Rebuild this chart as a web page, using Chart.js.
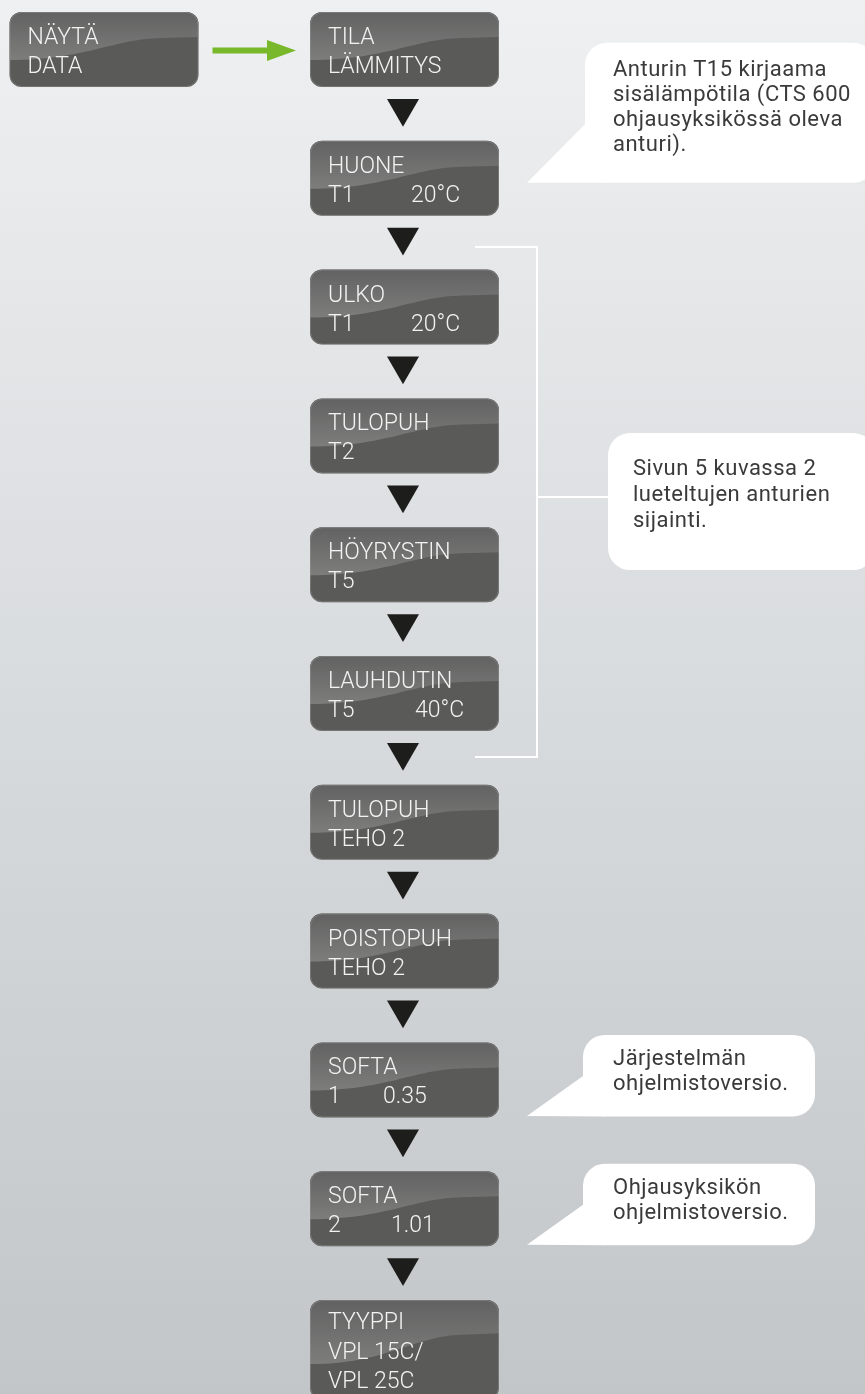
<!DOCTYPE html>
<html><head><meta charset="utf-8">
<script src="https://cdn.jsdelivr.net/npm/chart.js@4.4.1/dist/chart.umd.min.js"></script>
<style>html,body{margin:0;padding:0;background:#e6e8ea;overflow:hidden}canvas{display:block}</style>
</head><body>
<canvas id="c" width="865" height="1394"></canvas>
<script>
// ---- data ----
const stepTitles = ["TILA","HUONE","ULKO","TULOPUH","HÖYRYSTIN","LAUHDUTIN","TULOPUH","POISTOPUH","SOFTA","SOFTA","TYYPPI"];
const stepLine2  = ["LÄMMITYS","T1","T1","T2","T5","T5","TEHO 2","TEHO 2","1","2","VPL 15C/"];
const stepValues = ["","20°C","20°C","","","40°C","","","0.35","1.01",""];
const stepLine3  = ["","","","","","","","","","","VPL 25C"];
const startLabel = ["NÄYTÄ","DATA"];
const noteTexts = [
  ["Anturin T15 kirjaama","sisälämpötila (CTS 600","ohjausyksikössä oleva","anturi)."],
  ["Järjestelmän","ohjelmistoversio."],
  ["Ohjausyksikön","ohjelmistoversio."]
];
const noteSteps = [1, 8, 9];
const bracketText = ["Sivun 5 kuvassa 2","lueteltujen anturien","sijainti."];
const bracketSteps = [2, 5];

// ---- layout / style ----
const W = 865, H = 1394;
const STEP_PX = 128.8, FIRST_CENTER = 49.5;
const yMin = -FIRST_CENTER / STEP_PX, yMax = yMin + H / STEP_PX;
const MAIN_X = 404.5, START_X = 104;
const BOX_W = 189, BOX_H = 75;
const TRI_OFFSET = 58.75 / STEP_PX;
const valueX = [0, 411, 411, 0, 0, 415, 0, 0, 383, 391, 0];
const BOX_FONT = '300 23px Roboto';
const NOTE_FONT = '400 22px Roboto';

function rr(ctx, x, y, w, h, r) {
  ctx.beginPath();
  ctx.moveTo(x + r, y);
  ctx.arcTo(x + w, y, x + w, y + h, r);
  ctx.arcTo(x + w, y + h, x, y + h, r);
  ctx.arcTo(x, y + h, x, y, r);
  ctx.arcTo(x, y, x + w, y, r);
  ctx.closePath();
}

function drawBox(ctx, cx, cy, lines, val, valX) {
  const tall = lines.length > 2;
  const h = tall ? 100 : BOX_H;
  const s = h / BOX_H;
  const x = cx - BOX_W / 2, y = cy - BOX_H / 2;
  ctx.save();
  rr(ctx, x, y, BOX_W, h, 12);
  ctx.fillStyle = '#5a5a58';
  ctx.fill();
  ctx.clip();
  const g = ctx.createLinearGradient(0, y, 0, y + 48 * s);
  g.addColorStop(0, '#626262');
  g.addColorStop(1, '#7d7d7c');
  ctx.beginPath();
  ctx.moveTo(x, y);
  ctx.lineTo(x + BOX_W, y);
  ctx.lineTo(x + BOX_W, y + 25 * s);
  ctx.lineTo(x + BOX_W * 0.8, y + 26 * s);
  ctx.bezierCurveTo(x + BOX_W * 0.55, y + 27 * s, x + BOX_W * 0.4, y + 48 * s, x, y + 48 * s);
  ctx.closePath();
  ctx.fillStyle = g;
  ctx.fill();
  ctx.restore();
  rr(ctx, x + 0.5, y + 0.5, BOX_W - 1, h - 1, 12);
  ctx.strokeStyle = 'rgba(150,150,150,0.45)';
  ctx.lineWidth = 1;
  ctx.stroke();
  ctx.fillStyle = '#f3f3f3';
  ctx.font = BOX_FONT;
  ctx.letterSpacing = '0px';
  ctx.textBaseline = 'alphabetic';
  ctx.textAlign = 'left';
  const base = tall ? [29, 58.5, 88] : [32, 61];
  lines.forEach((t, k) => { if (t) ctx.fillText(t, x + 18, y + base[k]); });
  if (val) ctx.fillText(val, valX, y + base[1]);
}

function drawNote(ctx, left, right, top, bottom, tail, lines, textX, firstBase, lh) {
  ctx.fillStyle = '#ffffff';
  rr(ctx, left, top, right - left, bottom - top, 22);
  ctx.fill();
  if (tail) {
    ctx.beginPath();
    ctx.moveTo(left, tail.topY);
    ctx.lineTo(tail.tipX, tail.tipY);
    ctx.lineTo(left + 22, bottom);
    ctx.lineTo(left + 22, tail.topY);
    ctx.closePath();
    ctx.fill();
  }
  ctx.fillStyle = '#3a3a3a';
  ctx.font = NOTE_FONT;
  ctx.letterSpacing = '0.5px';
  ctx.textAlign = 'left';
  ctx.textBaseline = 'alphabetic';
  lines.forEach((t, k) => ctx.fillText(t, textX, firstBase + k * lh));
  ctx.letterSpacing = '0px';
}

const diagram = {
  id: 'diagram',
  beforeDraw(chart) {
    const ctx = chart.ctx;
    const g = ctx.createLinearGradient(0, 0, 0, H);
    g.addColorStop(0, '#eef0f1');
    g.addColorStop(1, '#c2c6c9');
    ctx.save();
    ctx.fillStyle = g;
    ctx.fillRect(0, 0, W, H);
    ctx.restore();
  },
  afterDatasetsDraw(chart) {
    const ctx = chart.ctx;
    const steps = chart.getDatasetMeta(0).data;
    const start = chart.getDatasetMeta(1).data[0];
    ctx.save();
    steps.forEach((p, i) => {
      const lines = [stepTitles[i], stepLine2[i]];
      if (stepLine3[i]) lines.push(stepLine3[i]);
      drawBox(ctx, p.x, p.y, lines, stepValues[i], valueX[i]);
    });
    drawBox(ctx, start.x, start.y, startLabel, '', 0);
    // green arrow
    const ay = start.y + 1;
    const ax0 = start.x + BOX_W / 2 + 14, ax1 = steps[0].x - BOX_W / 2 - 14;
    ctx.fillStyle = '#79b82b';
    ctx.fillRect(ax0, ay - 3, ax1 - ax0 - 28, 6);
    ctx.beginPath();
    ctx.moveTo(ax1 - 29, ay - 10.5);
    ctx.lineTo(ax1, ay);
    ctx.lineTo(ax1 - 29, ay + 10.5);
    ctx.closePath();
    ctx.fill();
    // bracket
    const bTop = steps[bracketSteps[0]].y - 60;
    const bBot = steps[bracketSteps[1]].y + 63.5;
    const bMid = (bTop + bBot) / 2 - 5;
    const bx = 537;
    ctx.strokeStyle = '#ffffff';
    ctx.lineWidth = 2;
    ctx.beginPath();
    ctx.moveTo(475, bTop); ctx.lineTo(bx, bTop); ctx.lineTo(bx, bBot); ctx.lineTo(475, bBot);
    ctx.moveTo(bx, bMid); ctx.lineTo(610, bMid);
    ctx.stroke();
    drawNote(ctx, 608, 875, bMid - 64, bMid + 73, null, bracketText, 633, bMid - 22, 26);
    noteSteps.forEach((si, k) => {
      const cy = steps[si].y;
      if (k === 0) {
        drawNote(ctx, 585, 875, cy - 135.5, cy + 4.5,
          { tipX: 527, tipY: cy + 4.5, topY: cy - 54 }, noteTexts[k], 613, cy - 102, 25);
      } else {
        drawNote(ctx, 583, 815, cy - 45, cy + 36.5,
          { tipX: 527, tipY: cy + 36, topY: cy - 4 }, noteTexts[k], 613, cy - 15, 25);
      }
    });
    ctx.restore();
  }
};

new Chart(document.getElementById('c'), {
  type: 'scatter',
  data: {
    datasets: [
      { data: stepTitles.map((t, i) => ({ x: MAIN_X, y: i })), pointRadius: 0 },
      { data: [{ x: START_X, y: 0 }], pointRadius: 0 },
      { data: stepTitles.slice(0, -1).map((t, i) => ({ x: MAIN_X - 1.5, y: i + TRI_OFFSET })),
        pointStyle: 'triangle', rotation: 180, pointRadius: 18.5, borderWidth: 0,
        backgroundColor: '#1d1d1b', pointHoverRadius: 18.5 }
    ]
  },
  options: {
    responsive: false,
    animation: false,
    devicePixelRatio: 1,
    layout: { padding: 0, autoPadding: false },
    plugins: { legend: { display: false }, tooltip: { enabled: false } },
    events: [],
    scales: {
      x: { type: 'linear', min: 0, max: W, display: false },
      y: { type: 'linear', min: yMin, max: yMax, reverse: true, display: false }
    }
  },
  plugins: [diagram]
});
</script>
</body></html>
